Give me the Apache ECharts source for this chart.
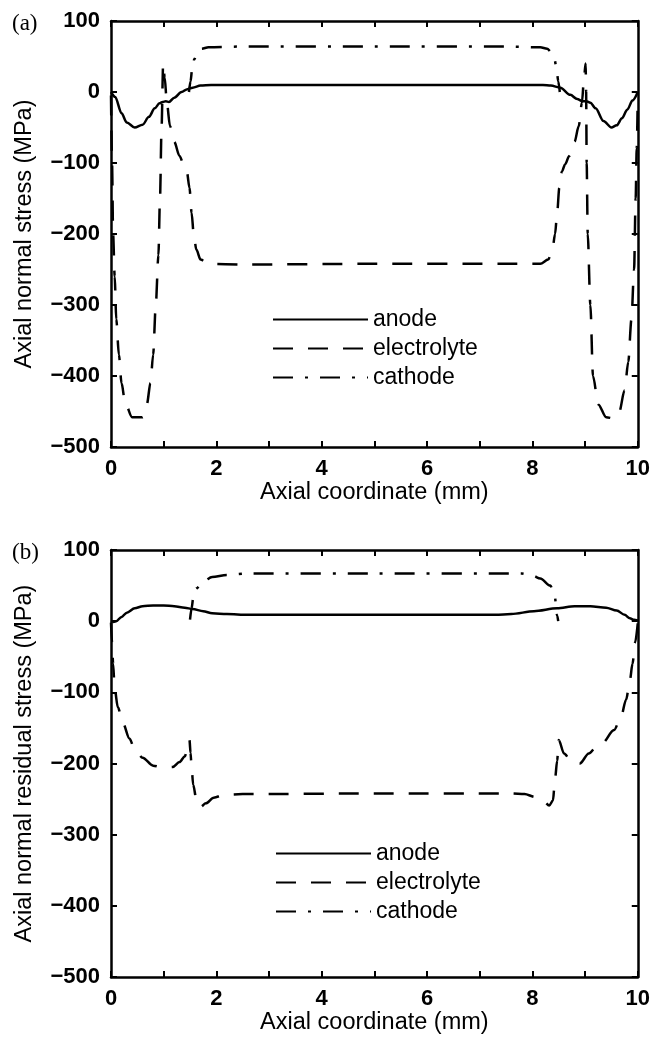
<!DOCTYPE html>
<html>
<head>
<meta charset="utf-8">
<script src="https://cdn.jsdelivr.net/npm/echarts@6/dist/echarts.min.js"></script>
<style>
html, body {margin: 0; padding: 0; background: #fff;}
#chart {width: 653px; height: 1040px;}
</style>
</head>
<body>
<div id="chart"></div>
<script>
// series names (legend)
const names = ['anode', 'electrolyte', 'cathode'];
const xTicks = [0, 2, 4, 6, 8, 10];
const yTicks = [-500, -400, -300, -200, -100, 0, 100];

// (a) axial normal stress, [mm, MPa]
const anodeA = [[0,0],[0.08,-7],[0.2,-30],[0.3,-43],[0.45,-50],[0.6,-46],[0.72,-35],[0.83,-23],[0.92,-16],[0.98,-14],
    [1.04,-13],[1.1,-14],[1.2,-8],[1.34,0],[1.45,4],[1.55,6],[1.7,9],[1.9,10],[5,10],[8.2,10],[8.35,9],[8.53,6],
    [8.72,-4],[8.85,-10],[8.95,-13],[9.02,-13],[9.1,-15],[9.2,-23],[9.35,-41],[9.5,-50],[9.6,-47],[9.7,-37],
    [9.8,-25],[9.9,-12],[10,0]];
const electrolyteA = [[0,-5],[0.02,-100],[0.04,-200],[0.07,-260],[0.1,-320],[0.15,-370],[0.2,-410],[0.27,-438],
    [0.4,-458],[0.6,-458],[0.68,-440],[0.75,-410],[0.8,-370],[0.85,-300],[0.9,-230],[0.93,-150],[0.96,-50],
    [0.99,40],[1.02,20],[1.06,-15],[1.12,-48],[1.2,-70],[1.3,-90],[1.38,-102],[1.44,-112],[1.49,-135],
    [1.53,-170],[1.57,-200],[1.62,-222],[1.7,-236],[1.85,-242],[2.5,-243],[5,-242],[7.5,-242],[8.15,-242],
    [8.3,-236],[8.38,-222],[8.43,-200],[8.47,-170],[8.51,-135],[8.56,-112],[8.62,-102],[8.7,-90],[8.8,-70],
    [8.88,-48],[8.94,-15],[8.98,20],[9.01,40],[9.02,0],[9.03,-100],[9.05,-200],[9.1,-300],[9.15,-400],
    [9.25,-440],[9.4,-458],[9.55,-460],[9.65,-450],[9.75,-420],[9.82,-380],[9.88,-320],[9.93,-250],
    [9.96,-150],[9.98,-80],[10,-5]];
const cathodeA = [[1.48,0],[1.51,15],[1.54,32],[1.58,46],[1.64,56],[1.72,61],[1.85,63],[2.5,64],[5,64],[7.5,64],
    [8.15,63],[8.28,61],[8.36,56],[8.42,46],[8.46,32],[8.49,15],[8.52,0]];

// (b) axial normal residual stress, [mm, MPa]
const anodeB = [[0,0],[0.05,-1],[0.1,0],[0.2,6],[0.3,12],[0.45,18],[0.6,21],[0.8,22],[1.0,22],[1.2,21],[1.4,19],
    [1.55,17],[1.75,14],[1.92,11],[2.2,10],[2.6,9],[5,9],[7.3,9],[7.6,10],[8.03,14],[8.47,18],[8.8,21],
    [9.1,21],[9.4,19],[9.6,15],[9.75,9],[9.85,4],[9.93,2],[10,1]];
const electrolyteB = [[0,-2],[0.02,-30],[0.04,-60],[0.07,-95],[0.13,-121],[0.23,-144],[0.35,-165],[0.45,-180],
    [0.6,-192],[0.8,-203],[1.0,-206],[1.17,-205],[1.3,-198],[1.4,-190],[1.49,-167],[1.51,-185],[1.53,-205],
    [1.56,-230],[1.62,-250],[1.7,-261],[1.8,-256],[1.95,-248],[2.15,-244],[2.5,-243],[5,-242],[7.6,-242],
    [7.85,-243],[8.05,-247],[8.2,-252],[8.32,-259],[8.39,-252],[8.43,-221],[8.47,-196],[8.5,-167],[8.6,-186],
    [8.75,-198],[8.9,-200],[9.07,-186],[9.2,-178],[9.32,-172],[9.55,-153],[9.68,-135],[9.78,-110],[9.85,-83],
    [9.9,-60],[9.95,-30],[10,-3]];
const cathodeB = [[1.5,2],[1.53,18],[1.56,32],[1.62,46],[1.75,56],[1.92,62],[2.2,65],[2.6,67],[5,67],[7.8,67],
    [8.0,64],[8.15,60],[8.34,50],[8.42,37],[8.47,8],[8.49,0]];

const FONT = '"Liberation Sans", Arial, sans-serif';
const BLACK = '#000';

const lineStyles = {
    anode: {color: BLACK, width: 2.5, type: 'solid'},
    electrolyte: {color: BLACK, width: 2.5, type: [20, 15]},
    cathode: {color: BLACK, width: 2.5, type: [20, 12, 3, 12]}
};

function fmt_y(v) {
    return v < 0 ? '\u2212' + (-v) : String(v);
}

function build_x_axes(grid) {
    const base = {
        gridIndex: grid, type: 'value', min: 0, max: 10, interval: 1,
        axisLine: {onZero: false, lineStyle: {color: BLACK, width: 2.5}},
        axisTick: {inside: true, length: 6, lineStyle: {color: BLACK, width: 2}},
        splitLine: {show: false}
    };
    return [
        Object.assign({}, base, {
            position: 'bottom',
            axisLabel: {
                color: BLACK, fontFamily: FONT, fontSize: 22, fontWeight: 'bold', margin: 11,
                formatter: v => xTicks.includes(v) ? String(v) : ''
            },
            name: 'Axial coordinate (mm)', nameLocation: 'middle', nameGap: 33,
            nameTextStyle: {color: BLACK, fontFamily: FONT, fontSize: 23.5}
        }),
        Object.assign({}, base, {position: 'top', axisLabel: {show: false}})
    ];
}

function build_y_axes(grid, title) {
    const base = {
        gridIndex: grid, type: 'value', min: yTicks[0], max: yTicks[yTicks.length - 1], interval: 100,
        axisLine: {show: true, onZero: false, lineStyle: {color: BLACK, width: 2.5}},
        axisTick: {show: true, inside: true, length: 6, lineStyle: {color: BLACK, width: 2}},
        splitLine: {show: false}
    };
    return [
        Object.assign({}, base, {
            position: 'left',
            axisLabel: {color: BLACK, fontFamily: FONT, fontSize: 22, fontWeight: 'bold', margin: 11, formatter: fmt_y},
            name: title, nameLocation: 'middle', nameGap: 74,
            nameTextStyle: {color: BLACK, fontFamily: FONT, fontSize: 23.5}
        }),
        Object.assign({}, base, {position: 'right', axisLabel: {show: false}})
    ];
}

function make_series(name, data, axis) {
    return {
        name: name, type: 'line', data: data,
        xAxisIndex: axis, yAxisIndex: axis,
        symbol: 'none', symbolSize: 0, smooth: 0.3, smoothMonotone: 'x',
        lineStyle: lineStyles[name],
        itemStyle: {color: BLACK},
        z: name === 'anode' ? 4 : 3
    };
}

function build_legend(left, top) {
    return {
        left: left, top: top, orient: 'vertical', selectedMode: false,
        itemWidth: 95, itemHeight: 23, itemGap: 6,
        data: names,
        itemStyle: {opacity: 0},
        textStyle: {color: BLACK, fontFamily: FONT, fontSize: 23}
    };
}

const option = {
    animation: false,
    backgroundColor: '#fff',
    title: [
        {text: '(a)', left: 12, top: 12, padding: 0,
            textStyle: {fontFamily: '"Liberation Serif", serif', fontSize: 23, fontWeight: 'normal', color: BLACK}},
        {text: '(b)', left: 12, top: 541, padding: 0,
            textStyle: {fontFamily: '"Liberation Serif", serif', fontSize: 23, fontWeight: 'normal', color: BLACK}}
    ],
    grid: [
        {left: 111, top: 21, width: 530, height: 426},
        {left: 111, top: 550, width: 530, height: 427}
    ],
    legend: [build_legend(267, 303), build_legend(270, 837)],
    xAxis: build_x_axes(0).concat(build_x_axes(1)),
    yAxis: build_y_axes(0, 'Axial normal stress (MPa)').concat(build_y_axes(1, 'Axial normal residual stress (MPa)')),
    series: [
        make_series('anode', anodeA, 0),
        make_series('electrolyte', electrolyteA, 0),
        make_series('cathode', cathodeA, 0),
        make_series('anode', anodeB, 2),
        make_series('electrolyte', electrolyteB, 2),
        make_series('cathode', cathodeB, 2)
    ]
};

let chart = echarts.init(document.getElementById('chart'), null, {renderer: 'canvas'});
chart.setOption(option);
window.addEventListener('resize', function () {
    chart.resize();
});
</script>
</body>
</html>
